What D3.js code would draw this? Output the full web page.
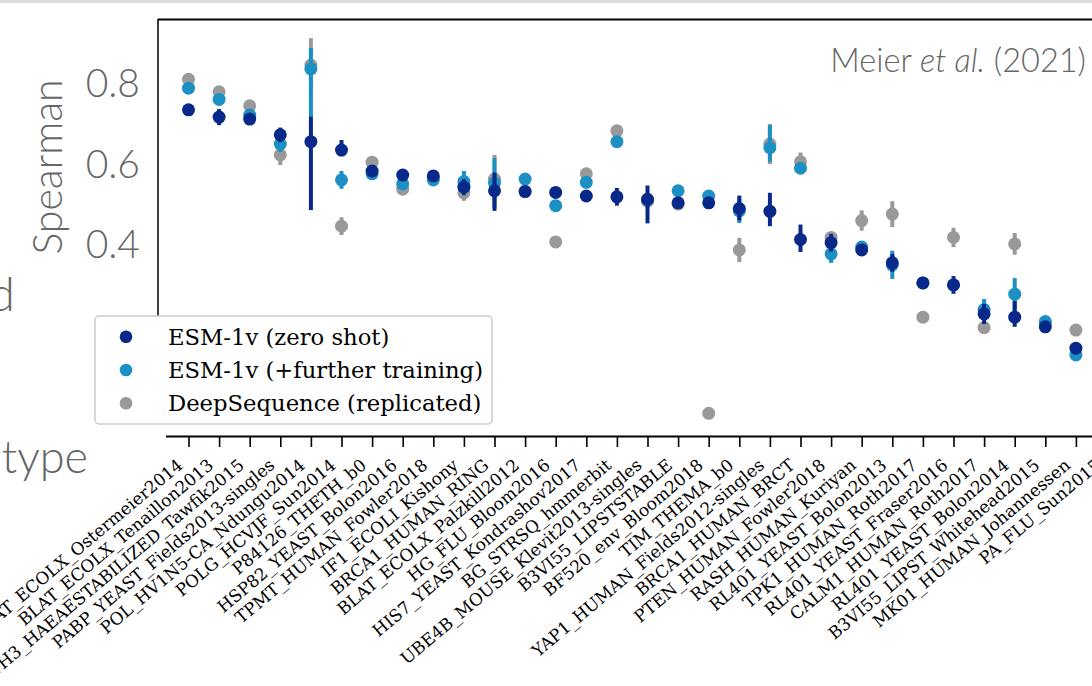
<!DOCTYPE html>
<html lang="en">
<head>
  <meta charset="UTF-8">
  <title>ESM-1v vs DeepSequence</title>
  <script src="https://d3js.org/d3.v7.min.js"></script>
  <style>
    body { margin: 0; background: #fff; }
    svg { display: block; }
    .big { font-family: Lato, "Open Sans", sans-serif; font-weight: 300; fill: #666; }
    .xlab text { font-family: "DejaVu Serif", serif; font-size: 17px; fill: #000; }
    .legend text { font-family: "DejaVu Serif", serif; font-size: 22.7px; fill: #000; }
  </style>
</head>
<body>
<script>
const names = [
  "BLAT_ECOLX_Ostermeier2014", "BLAT_ECOLX_Tenaillon2013", "MTH3_HAEAESTABILIZED_Tawfik2015",
  "PABP_YEAST_Fields2013-singles", "POL_HV1N5-CA_Ndungu2014", "POLG_HCVJF_Sun2014",
  "P84126_THETH_b0", "HSP82_YEAST_Bolon2016", "TPMT_HUMAN_Fowler2018", "IF1_ECOLI_Kishony",
  "BRCA1_HUMAN_RING", "BLAT_ECOLX_Palzkill2012", "HG_FLU_Bloom2016", "HIS7_YEAST_Kondrashov2017",
  "BG_STRSQ_hmmerbit", "UBE4B_MOUSE_Klevit2013-singles", "B3VI55_LIPSTSTABLE", "BF520_env_Bloom2018",
  "TIM_THEMA_b0", "YAP1_HUMAN_Fields2012-singles", "BRCA1_HUMAN_BRCT", "PTEN_HUMAN_Fowler2018",
  "RASH_HUMAN_Kuriyan", "RL401_YEAST_Bolon2013", "TPK1_HUMAN_Roth2017", "RL401_YEAST_Fraser2016",
  "CALM1_HUMAN_Roth2017", "RL401_YEAST_Bolon2014", "B3VI55_LIPST_Whitehead2015",
  "MK01_HUMAN_Johannessen", "PA_FLU_Sun2015"
];

// ESM-1v (zero shot)
const zeroShot   = [0.732, 0.714, 0.709, 0.670, 0.653, 0.632, 0.580, 0.570, 0.568, 0.540, 0.531, 0.529, 0.527, 0.518, 0.516, 0.510,
                    0.501, 0.501, 0.487, 0.480, 0.410, 0.402, 0.384, 0.352, 0.302, 0.297, 0.225, 0.217, 0.193, 0.140, 0.100];
const zeroShotLo = [0.008, 0.020, 0.010, 0.018, 0.170, 0.015, 0.010, 0.008, 0.008, 0.020, 0.050, 0.008, 0.008, 0.008, 0.022, 0.060,
                    0.008, 0.008, 0.030, 0.037, 0.031, 0.022, 0.012, 0.022, 0.008, 0.022, 0.025, 0.024, 0.008, 0.015, 0.010];
const zeroShotHi = [0.008, 0.020, 0.010, 0.018, 0.062, 0.025, 0.010, 0.008, 0.008, 0.020, 0.045, 0.008, 0.008, 0.008, 0.022, 0.034,
                    0.008, 0.008, 0.032, 0.046, 0.037, 0.022, 0.012, 0.022, 0.008, 0.022, 0.025, 0.040, 0.008, 0.015, 0.010];

// ESM-1v (+further training)
const furtherTr   = [0.786, 0.758, 0.719, 0.647, 0.834, 0.558, 0.573, 0.548, 0.558, 0.554, 0.550, 0.560, 0.494, 0.552, 0.653, 0.508,
                     0.531, 0.518, 0.481, 0.638, 0.587, 0.374, 0.391, 0.347, 0.302, 0.297, 0.236, 0.274, 0.206, 0.123, 0.120];
const furtherTrLo = [0.008, 0.010, 0.010, 0.020, 0.120, 0.022, 0.010, 0.008, 0.008, 0.026, 0.062, 0.008, 0.008, 0.008, 0.008, 0.010,
                     0.008, 0.008, 0.030, 0.035, 0.012, 0.022, 0.010, 0.035, 0.008, 0.010, 0.026, 0.040, 0.008, 0.008, 0.010];
const furtherTrHi = [0.008, 0.010, 0.010, 0.020, 0.052, 0.022, 0.010, 0.008, 0.008, 0.026, 0.062, 0.008, 0.008, 0.008, 0.008, 0.010,
                     0.008, 0.008, 0.030, 0.056, 0.012, 0.022, 0.010, 0.035, 0.008, 0.010, 0.026, 0.040, 0.008, 0.008, 0.010];

// DeepSequence (replicated)
const deepSeq   = [0.808, 0.777, 0.742, 0.620, 0.843, 0.443, 0.602, 0.535, 0.562, 0.526, 0.560, 0.530, 0.404, 0.573, 0.680, 0.505,
                   0.498, -0.022, 0.384, 0.647, 0.603, 0.415, 0.457, 0.473, 0.217, 0.415, 0.191, 0.399, 0.200, 0.185, 0.150];
const deepSeqLo = [0.008, 0.010, 0.010, 0.025, 0.060, 0.022, 0.010, 0.010, 0.008, 0.020, 0.060, 0.008, 0.008, 0.010, 0.010, 0.010,
                   0.008, 0.008, 0.030, 0.050, 0.023, 0.012, 0.025, 0.032, 0.012, 0.024, 0.010, 0.027, 0.008, 0.012, 0.010];
const deepSeqHi = [0.008, 0.010, 0.010, 0.025, 0.067, 0.022, 0.010, 0.010, 0.008, 0.020, 0.060, 0.008, 0.008, 0.010, 0.010, 0.010,
                   0.008, 0.008, 0.030, 0.050, 0.023, 0.012, 0.025, 0.032, 0.012, 0.024, 0.010, 0.027, 0.008, 0.012, 0.010];

const yTicks = [0.4, 0.6, 0.8];

const width = 1092, height = 686;
const svg = d3.select("body").append("svg")
  .attr("width", width).attr("height", height);

// thin grey band at the top of the crop
svg.append("rect").attr("x", 0).attr("y", 0).attr("width", width).attr("height", 3).attr("fill", "#dcdcdc");

const x = d3.scalePoint().domain(names).range([188.5, 188.5 + 30.6 * (names.length - 1)]);
const y = d3.scaleLinear().domain([-0.0795, 0.957]).range([436.5, 19.3]);

// spines
svg.append("line").attr("x1", 158).attr("x2", width).attr("y1", 19.5).attr("y2", 19.5)
  .attr("stroke", "#000").attr("stroke-width", 2);
svg.append("line").attr("x1", 158).attr("x2", 158).attr("y1", 19).attr("y2", 420)
  .attr("stroke", "#000").attr("stroke-width", 1.5);

// x axis
const xAxis = svg.append("g").attr("class", "xlab")
  .attr("transform", "translate(0,436)")
  .call(d3.axisBottom(x).tickSize(11));
xAxis.select(".domain").remove();
xAxis.selectAll(".tick line").attr("stroke", "#000").attr("stroke-width", 1.6);
xAxis.selectAll(".tick text")
  .attr("x", 0).attr("y", 0).attr("dy", 0)
  .attr("text-anchor", "end")
  .attr("transform", "translate(-5,31) rotate(-40)");
svg.append("line").attr("x1", 166).attr("x2", width).attr("y1", 436.5).attr("y2", 436.5)
  .attr("stroke", "#000").attr("stroke-width", 2);

// y axis
const yAxis = svg.append("g").attr("transform", "translate(158,0)")
  .call(d3.axisLeft(y).tickValues(yTicks).tickSize(0).tickPadding(18).tickFormat(d3.format(".1f")));
yAxis.select(".domain").remove();
yAxis.selectAll("text").attr("class", "big").style("font-size", "39px").attr("dy", "0.36em");

svg.append("text").attr("class", "big")
  .attr("transform", "translate(62,167) rotate(-90)")
  .attr("text-anchor", "middle").style("font-size", "41px")
  .text("Spearman");

// fragments of neighbouring panel text
svg.append("text").attr("class", "big").attr("x", 15).attr("y", 311)
  .attr("text-anchor", "end").style("font-size", "48px").text("d");
svg.append("text").attr("class", "big").attr("x", 88).attr("y", 473)
  .attr("text-anchor", "end").style("font-size", "45px").text("type");

// annotation
const ann = svg.append("text").attr("class", "big").attr("x", 1086).attr("y", 72)
  .attr("text-anchor", "end").style("font-size", "32.5px");
ann.append("tspan").text("Meier ");
ann.append("tspan").style("font-style", "italic").text("et al.");
ann.append("tspan").text(" (2021)");

const series = [
  { label: "DeepSequence (replicated)", color: "#999999", v: deepSeq, lo: deepSeqLo, hi: deepSeqHi },
  { label: "ESM-1v (+further training)", color: "#1d90c3", v: furtherTr, lo: furtherTrLo, hi: furtherTrHi },
  { label: "ESM-1v (zero shot)", color: "#08298a", v: zeroShot, lo: zeroShotLo, hi: zeroShotHi }
];

series.forEach(s => {
  const g = svg.append("g");
  g.selectAll("line")
    .data(names)
    .join("line")
    .attr("x1", d => x(d)).attr("x2", d => x(d))
    .attr("y1", (d, i) => y(s.v[i] - s.lo[i]))
    .attr("y2", (d, i) => y(s.v[i] + s.hi[i]))
    .attr("stroke", s.color).attr("stroke-width", 4);
  g.selectAll("circle")
    .data(names)
    .join("circle")
    .attr("cx", d => x(d))
    .attr("cy", (d, i) => y(s.v[i]))
    .attr("r", 6.5)
    .attr("fill", s.color);
});

// legend
const legend = svg.append("g").attr("class", "legend");
legend.append("rect")
  .attr("x", 95).attr("y", 316).attr("width", 397).attr("height", 108).attr("rx", 4)
  .attr("fill", "#fff").attr("stroke", "#cccccc").attr("stroke-width", 1.5);
const legendItems = series.slice().reverse();
legend.selectAll("g.item")
  .data(legendItems)
  .join("g")
  .attr("class", "item")
  .attr("transform", (d, i) => `translate(0,${336.7 + i * 33.3})`)
  .each(function(d) {
    const it = d3.select(this);
    it.append("circle").attr("cx", 126).attr("cy", 0).attr("r", 6.3).attr("fill", d.color);
    it.append("text").attr("x", 168).attr("y", 0).attr("dy", "0.35em").text(d.label);
  });
</script>
</body>
</html>
